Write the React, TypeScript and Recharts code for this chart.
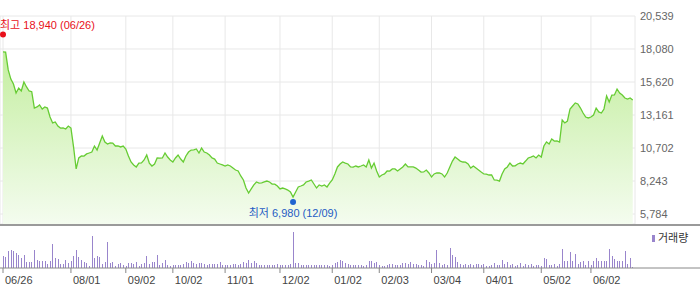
import React from 'react';
import {
  AreaChart,
  Area,
  BarChart,
  Bar,
  XAxis,
  YAxis,
  CartesianGrid,
  ReferenceDot,
} from 'recharts';

// trading calendar (KRX), 2024-06-26 .. 2025-06-26
const startDate = '2024-06-26';
const endDate = '2025-06-26';
const holidays = [
  '2024-08-15', '2024-09-16', '2024-09-17', '2024-09-18', '2024-10-01', '2024-10-03',
  '2024-10-09', '2024-12-25', '2024-12-31', '2025-01-01', '2025-01-27', '2025-01-28',
  '2025-01-29', '2025-01-30', '2025-03-03', '2025-05-01', '2025-05-05', '2025-05-06',
  '2025-06-03', '2025-06-06',
];

const tickDates = [
  '2024-06-26', '2024-08-01', '2024-09-02', '2024-10-02', '2024-11-01', '2024-12-02',
  '2025-01-02', '2025-02-03', '2025-03-04', '2025-04-01', '2025-05-02', '2025-06-02',
];

const priceTicks = [5784, 8243, 10702, 13161, 15620, 18080, 20539];

// daily close (원)
const closes = [
  17860, 17850, 16520, 15840, 15470, 14800, 15170, 14950, 15620, 15250,
  14950, 14900, 13680, 13760, 13910, 13610, 13760, 13680, 13010, 12570,
  12640, 12340, 12190, 12200, 12120, 12340, 12190, 10780, 9140, 9960,
  10110, 10100, 10260, 10330, 10400, 10850, 10550, 11080, 11600, 11150,
  11000, 11080, 11070, 10850, 10860, 10780, 10850, 10630, 10110, 9660,
  9440, 9290, 9580, 9590, 9810, 10180, 9580, 9360, 9510, 9960,
  9950, 9960, 10330, 10030, 9810, 9660, 9960, 10180, 9880, 9660,
  10110, 10400, 10550, 10560, 10630, 10330, 10700, 10400, 10330, 10180,
  9960, 9880, 9580, 9510, 9440, 9360, 9440, 9360, 9210, 9060,
  8990, 8620, 8320, 7720, 7350, 7650, 7950, 8170, 8090, 8100,
  8170, 8240, 8170, 8020, 8010, 7870, 7650, 7720, 7650, 7570,
  7420, 7050, 7420, 7800, 7870, 7950, 8170, 8240, 8320, 8020,
  7720, 7950, 7870, 7950, 7800, 8090, 8320, 8770, 9290, 9510,
  9660, 9580, 9510, 9290, 9280, 9360, 9290, 9360, 9440, 9290,
  9810, 9210, 9580, 8990, 8540, 8690, 8770, 8990, 8980, 9140,
  9140, 8990, 9140, 9290, 9510, 9290, 9300, 9290, 9210, 9060,
  8910, 8920, 9060, 8840, 8540, 8770, 8840, 8850, 8770, 8540,
  8840, 9290, 9730, 10030, 9880, 9730, 9660, 9650, 9510, 9210,
  9360, 9210, 9060, 8910, 8770, 8760, 8690, 8700, 8320, 8310,
  8240, 8770, 9140, 9290, 9580, 9360, 9370, 9510, 9580, 9510,
  9730, 9960, 10030, 10110, 9960, 10180, 10030, 10850, 11150, 11000,
  11370, 11220, 11230, 11150, 12790, 12570, 12710, 13610, 13830, 14060,
  13980, 13680, 13310, 13010, 12940, 13010, 13160, 13680, 13390, 13310,
  13610, 14580, 14130, 14650, 14660, 15100, 14800, 14650, 14430, 14350,
  14430, 14280,
];

// daily volume (천 주)
const volumes = [
  1200, 1100, 1700, 1800, 1700, 1500, 1300, 1000, 1300, 600,
  600, 600, 1800, 800, 700, 700, 700, 400, 700, 2400,
  1000, 900, 400, 400, 800, 500, 700, 1200, 1800, 1100,
  800, 600, 500, 200, 3200, 1000, 1200, 1100, 400, 600,
  2600, 500, 600, 200, 400, 500, 300, 200, 500, 500,
  400, 600, 200, 400, 500, 1200, 400, 600, 600, 1300,
  300, 500, 800, 300, 200, 300, 300, 300, 300, 400,
  600, 500, 700, 500, 400, 500, 500, 400, 300, 400,
  400, 400, 400, 600, 300, 300, 300, 300, 400, 400,
  300, 400, 600, 500, 800, 500, 700, 500, 300, 300,
  300, 300, 300, 300, 300, 400, 300, 300, 300, 300,
  400, 3600, 500, 500, 300, 300, 300, 300, 300, 300,
  300, 300, 300, 300, 300, 200, 300, 500, 600, 800,
  700, 500, 400, 300, 300, 300, 300, 300, 200, 300,
  700, 700, 500, 600, 300, 200, 200, 300, 400, 400,
  300, 300, 300, 500, 500, 400, 600, 400, 400, 300,
  300, 200, 800, 600, 400, 500, 1800, 500, 300, 400,
  300, 2000, 1300, 1100, 600, 400, 300, 400, 300, 400,
  300, 400, 400, 300, 400, 200, 200, 300, 500, 300,
  300, 800, 400, 600, 300, 400, 200, 300, 500, 200,
  400, 300, 400, 200, 300, 300, 200, 1000, 900, 300,
  300, 400, 200, 400, 1900, 700, 700, 1600, 700, 1400,
  400, 600, 700, 300, 700, 300, 700, 1000, 700, 700,
  700, 700, 1900, 1200, 900, 700, 700, 700, 1700, 400,
  1000, 100,
];

const high = { date: '2024-06-26', value: 18940 };
const low = { date: '2024-12-09', value: 6980 };

function tradingDays(from: string, to: string, skip: string[]) {
  const out: string[] = [];
  const d = new Date(from + 'T00:00:00Z');
  const end = new Date(to + 'T00:00:00Z');
  while (d <= end) {
    const iso = d.toISOString().slice(0, 10);
    const wd = d.getUTCDay();
    if (wd !== 0 && wd !== 6 && !skip.includes(iso)) out.push(iso);
    d.setUTCDate(d.getUTCDate() + 1);
  }
  return out;
}

const dates = tradingDays(startDate, endDate, holidays);
const data = dates.map((date, i) => ({ i, date, price: closes[i], volume: volumes[i] }));
const tickIdx = tickDates.map((d) => dates.indexOf(d));
const hiIdx = dates.indexOf(high.date);
const loIdx = dates.indexOf(low.date);

const mmdd = (iso: string) => `${iso.slice(5, 7)}/${iso.slice(8, 10)}`;
const num = (v: number) => v.toLocaleString('en-US');

// first point sits 3px in, one trading day = 2.613px
const X0 = 3;
const STEP = 2.613;
const W = 700;
const PRICE_W = 635;

const FONT = "'Liberation Sans', 'Noto Sans CJK KR', Arial, sans-serif";

const HighMarker = (p: any) => (
  <g>
    <circle cx={p.cx} cy={p.cy - 3} r={3} fill="#e8101a" />
    <text x={p.cx - 3} y={p.cy - 8} fontSize={11} fill="#e8101a" textAnchor="start">
      {`최고 ${num(high.value)} (${mmdd(high.date)})`}
    </text>
  </g>
);

const LowMarker = (p: any) => (
  <g>
    <circle cx={p.cx} cy={p.cy + 4} r={3} fill="#1f64d0" />
    <text x={p.cx} y={p.cy + 19} fontSize={11} fill="#1f5cc4" textAnchor="middle">
      {`최저 ${num(low.value)} (${mmdd(low.date)})`}
    </text>
  </g>
);

const DateTick = ({ x, y, payload }: any) => (
  <text x={x + 2} y={y + 9} fontSize={11} fill="#444" textAnchor="start">
    {mmdd(dates[payload.value] ?? '')}
  </text>
);

const VolBar = ({ x, y, height, fill }: any) =>
  height > 0 ? <rect x={Math.round(x)} y={y} width={1} height={height} fill={fill} /> : null;

export default function App() {
  return (
    <div style={{ position: 'absolute', left: 0, top: 0, width: W, height: 289, background: '#fff', fontFamily: FONT }}>
      <AreaChart width={W} height={224} data={data} margin={{ top: 16, right: 0, left: 0, bottom: 0 }}>
        <defs>
          <linearGradient id="priceFill" x1="0" y1="0" x2="0" y2="1">
            <stop offset="0%" stopColor="#c4eea0" />
            <stop offset="100%" stopColor="#f4fcef" />
          </linearGradient>
        </defs>
        <CartesianGrid stroke="#e8e8e8" />
        <XAxis
          type="number"
          dataKey="i"
          domain={[-X0 / STEP, (PRICE_W - X0) / STEP]}
          ticks={tickIdx}
          interval={0}
          hide
        />
        <YAxis
          orientation="right"
          width={W - PRICE_W}
          domain={[5039, 20539]}
          ticks={priceTicks}
          interval={0}
          axisLine={false}
          tickLine={false}
          tickSize={0}
          tickMargin={5}
          tick={{ fontSize: 11, fill: '#666' }}
          tickFormatter={num}
        />
        <Area
          type="linear"
          dataKey="price"
          stroke="#66cc33"
          strokeWidth={1.3}
          fill="url(#priceFill)"
          fillOpacity={1}
          dot={false}
          activeDot={false}
          isAnimationActive={false}
        />
        <ReferenceDot x={hiIdx} y={high.value} shape={HighMarker} />
        <ReferenceDot x={loIdx} y={low.value} shape={LowMarker} />
      </AreaChart>
      <div style={{ height: 2, background: '#9a9a9a' }} />
      <div style={{ position: 'relative' }}>
        <BarChart width={W} height={63} data={data} margin={{ top: 0, right: 0, left: 0, bottom: 0 }}>
          <XAxis
            type="number"
            dataKey="i"
            domain={[-X0 / STEP, (W - X0) / STEP]}
            ticks={tickIdx}
            interval={0}
            height={21}
            stroke="#888"
            tickSize={5}
            tick={<DateTick />}
          />
          <YAxis hide domain={[0, 4200]} />
          <Bar dataKey="volume" fill="#9985cc" barSize={1} shape={<VolBar />} isAnimationActive={false} />
        </BarChart>
        <div
          style={{
            position: 'absolute',
            top: 6,
            left: 652,
            display: 'flex',
            alignItems: 'center',
            fontSize: 11,
            lineHeight: '13px',
            color: '#333',
          }}
        >
          <span style={{ display: 'inline-block', width: 3, height: 7, background: '#9985cc', marginRight: 3 }} />
          거래량
        </div>
      </div>
    </div>
  );
}
